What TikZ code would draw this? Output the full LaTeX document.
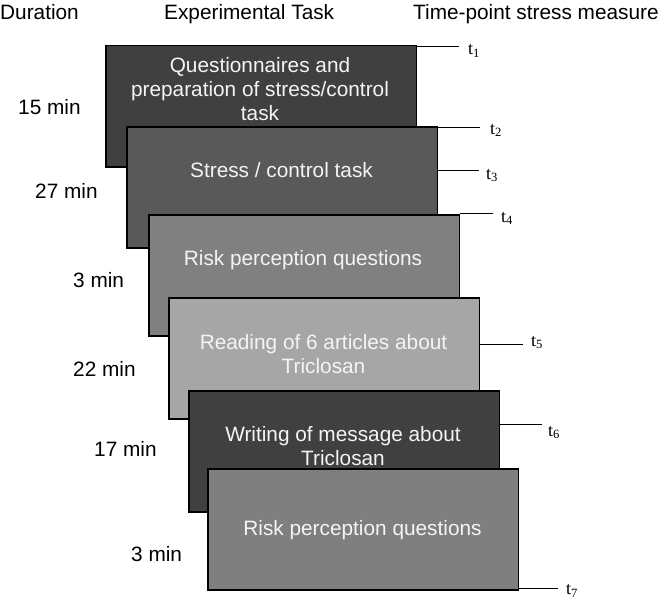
\documentclass[tikz,border=0pt]{standalone}
\usepackage{fontspec}
\setmainfont{Liberation Sans}
\newfontfamily\tfont{Liberation Serif}
\definecolor{cA}{HTML}{404040}
\definecolor{cB}{HTML}{595959}
\definecolor{cC}{HTML}{808080}
\definecolor{cD}{HTML}{A6A6A6}
\definecolor{cE}{HTML}{404040}
\definecolor{cF}{HTML}{7F7F7F}
\definecolor{txt}{HTML}{F4F4F4}
\begin{document}
\begin{tikzpicture}[x=1pt,y=-1pt,
  taskbox/.style={draw=black,line width=1.5pt,minimum width=310.5pt,minimum height=121pt,inner sep=0pt,anchor=north west},
  tasktext/.style={text=txt,align=center,font=\fontsize{20.8}{24}\selectfont,inner sep=0pt},
  hdr/.style={font=\fontsize{20.8}{24}\selectfont,inner sep=0pt,anchor=base west},
  dur/.style={font=\fontsize{20.8}{24}\selectfont,inner sep=0pt,anchor=west},
  tlab/.style={font=\tfont\fontsize{18}{20}\selectfont,inner sep=0pt,anchor=base west},
  tline/.style={draw=black,line width=1pt}]
\useasboundingbox (0,0) rectangle (663,602);
% headers
\node[hdr] (h1) at (0,19.5) {Duration};
\node[hdr] (h2) at (164,19.5) {Experimental Task};
\node[hdr] (h3) at (413,19.5) {Time-point stress measure};
% durations
\node[dur] (d1) at (18,107) {15 min};
\node[dur] (d2) at (35,191) {27 min};
\node[dur] (d3) at (73,280) {3 min};
\node[dur] (d4) at (73,369) {22 min};
\node[dur] (d5) at (94,449) {17 min};
\node[dur] (d6) at (131,554) {3 min};
% boxes
\node[taskbox,fill=cA] (b1) at (105,45) {};
\node[tasktext] (x1) at (260,89) {Questionnaires and\\preparation of stress/control\\task};
\node[taskbox,fill=cB] (b2) at (126,126) {};
\node[tasktext] (x2) at (281.5,170) {Stress / control task};
\node[taskbox,fill=cC] (b3) at (148,214) {};
\node[tasktext] (x3) at (303,260) {Risk perception questions};
\node[taskbox,fill=cD] (b4) at (168,297) {};
\node[tasktext] (x4) at (323.5,354) {Reading of 6 articles about\\Triclosan};
\node[taskbox,fill=cE] (b5) at (188,390) {};
\node[tasktext] (x5) at (343,446) {Writing of message about\\Triclosan};
\node[taskbox,fill=cF] (b6) at (207,468) {};
\node[tasktext] (x6) at (362.5,530) {Risk perception questions};
% time points
\coordinate (e1) at (459,47);
\coordinate (e2) at (480,127);
\coordinate (e3) at (479,170);
\coordinate (e4) at (493,213);
\coordinate (e5) at (523,344);
\coordinate (e6) at (542,424);
\coordinate (e7) at (558,588);
\draw[tline] (b1.east |- e1) -- (e1);
\draw[tline] (b2.east |- e2) -- (e2);
\draw[tline] (b2.east |- e3) -- (e3);
\draw[tline] (b3.east |- e4) -- (e4);
\draw[tline] (b4.east |- e5) -- (e5);
\draw[tline] (b5.east |- e6) -- (e6);
\draw[tline] (b6.east |- e7) -- (e7);
\node[tlab] (l1) at (468,55) {t\textsubscript{1}};
\node[tlab] (l2) at (490,134) {t\textsubscript{2}};
\node[tlab] (l3) at (486,179) {t\textsubscript{3}};
\node[tlab] (l4) at (501,222) {t\textsubscript{4}};
\node[tlab] (l5) at (531,346) {t\textsubscript{5}};
\node[tlab] (l6) at (548,436) {t\textsubscript{6}};
\node[tlab] (l7) at (566,594.5) {t\textsubscript{7}};
\end{tikzpicture}
\end{document}
